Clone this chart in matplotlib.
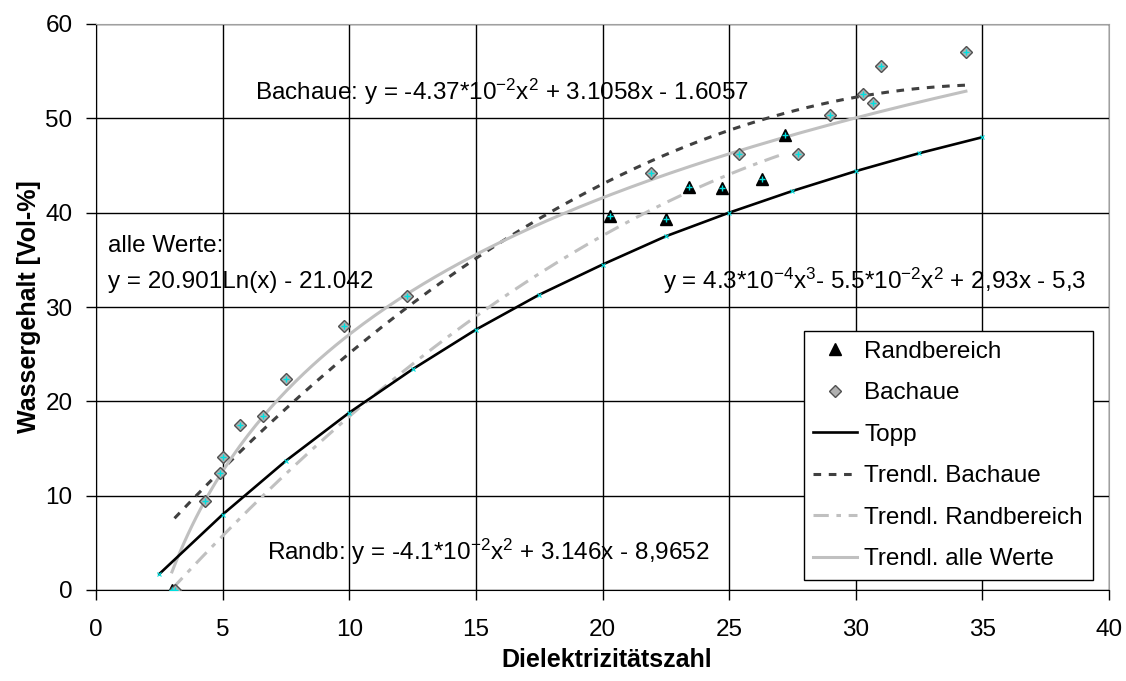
import numpy as np
import matplotlib
matplotlib.use("Agg")
import matplotlib.pyplot as plt

plt.rcParams["font.family"] = ["Liberation Sans", "DejaVu Sans"]
plt.rcParams["mathtext.fontset"] = "custom"
plt.rcParams["mathtext.rm"] = "Liberation Sans"
plt.rcParams["mathtext.it"] = "Liberation Sans"
plt.rcParams["mathtext.default"] = "regular"

# Messpunkte Randbereich
rand_x = [3.0, 20.3, 22.5, 23.4, 24.7, 26.3, 27.2]
rand_y = [0.0, 39.6, 39.3, 42.7, 42.6, 43.6, 48.2]

# Messpunkte Bachaue
bach_x = [3.1, 4.3, 4.9, 5.0, 5.7, 6.6, 7.5, 9.8, 12.3, 21.9, 25.4, 27.7,
          29.0, 30.3, 30.7, 31.0, 34.35]
bach_y = [0.0, 9.4, 12.4, 14.1, 17.5, 18.4, 22.4, 28.0, 31.2, 44.2, 46.2, 46.2,
          50.4, 52.6, 51.6, 55.5, 57.0]

# Topp-Kurve
topp_x = [2.5, 5, 7.5, 10, 12.5, 15, 17.5, 20, 22.5, 25, 27.5, 30, 32.5, 35]
topp_y = [1.7, 8.0, 13.7, 18.8, 23.4, 27.6, 31.3, 34.5, 37.5, 40.0, 42.3, 44.4, 46.3, 48.0]

# Trendlinien-Koeffizienten (aus den Gleichungen im Diagramm)
bach_coef = [-4.37e-2, 3.1058, -1.6057]
rand_coef = [-4.1e-2, 3.146, -8.9652]
alle_coef = [20.901, -21.042]   # a*ln(x) + b

fig = plt.figure(figsize=(11.26, 6.81), dpi=100)
ax = fig.add_axes([96 / 1126, 1 - 590 / 681, 1013 / 1126, 566 / 681])

cyan = "#00e0e0"

# Trendlinien
xb = np.linspace(min(bach_x), max(bach_x), 200)
xr = np.linspace(min(rand_x), max(rand_x), 200)
xa = np.linspace(min(rand_x + bach_x), max(rand_x + bach_x), 200)

ax.plot(topp_x, topp_y, color="black", lw=1.9, label="Topp", zorder=4)
ax.plot(topp_x, topp_y, ls="none", marker="x", ms=3, mew=0.8, color=cyan, zorder=5)
ax.plot(xb, np.polyval(bach_coef, xb), color="#404040", lw=2.2,
        dashes=(2.5, 2.5), label="Trendl. Bachaue", zorder=3)
ax.plot(xr, np.polyval(rand_coef, xr), color="#c0c0c0", lw=2.2,
        dashes=(5, 2.5, 1.5, 2.5), label="Trendl. Randbereich", zorder=3)
ax.plot(xa, alle_coef[0] * np.log(xa) + alle_coef[1], color="#c0c0c0", lw=2.2,
        label="Trendl. alle Werte", zorder=3)

# Punkte
ax.plot(rand_x, rand_y, ls="none", marker="^", ms=8, color="black",
        label="Randbereich", zorder=6)
ax.plot(bach_x, bach_y, ls="none", marker="D", ms=6.5, mfc="#b0b0b0",
        mec="#505050", mew=1.0, label="Bachaue", zorder=6)
ax.plot(rand_x + bach_x, rand_y + bach_y, ls="none", marker="+", ms=4,
        mew=1.0, color=cyan, zorder=7)

ax.set_xlim(0, 40)
ax.set_ylim(0, 60)
ax.set_xticks(range(0, 41, 5))
ax.set_yticks(range(0, 61, 10))
ax.grid(True, color="black", lw=1.0)
ax.set_axisbelow(True)
ax.tick_params(direction="out", length=7, width=1, labelsize=17.5)
ax.tick_params(axis="x", pad=14)
ax.tick_params(axis="y", pad=10)
for s in ("left", "bottom"):
    ax.spines[s].set_color("black")
for s in ("top", "right"):
    ax.spines[s].set_color("#a0a0a0")

ax.set_xlabel("Dielektrizitätszahl", fontsize=18, fontweight="bold")
ax.xaxis.set_label_coords(0.504, -0.103)
ax.set_ylabel("Wassergehalt [Vol-%]", fontsize=18, fontweight="bold")
ax.yaxis.set_label_coords(-0.054, 0.5)

# Gleichungen
fs = 17.5
ax.text(6.28, 52.8, r"Bachaue: y = -4.37*10$^{-2}$x$^{2}$ + 3.1058x - 1.6057",
        fontsize=fs, va="center", ha="left")
ax.text(0.47, 36.5, "alle Werte:", fontsize=fs, va="center", ha="left")
ax.text(0.47, 32.6, "y = 20.901Ln(x) - 21.042", fontsize=fs, va="center", ha="left")
ax.text(22.4, 32.8, r"y = 4.3*10$^{-4}$x$^{3}$- 5.5*10$^{-2}$x$^{2}$ + 2,93x - 5,3",
        fontsize=fs, va="center", ha="left")
ax.text(6.74, 4.0, r"Randb: y = -4.1*10$^{-2}$x$^{2}$ + 3.146x - 8,9652",
        fontsize=fs, va="center", ha="left")

handles, labels = ax.get_legend_handles_labels()
order = ["Randbereich", "Bachaue", "Topp", "Trendl. Bachaue",
         "Trendl. Randbereich", "Trendl. alle Werte"]
h = [handles[labels.index(o)] for o in order]
leg = ax.legend(h, order, loc="lower right", bbox_to_anchor=(0.984, 0.018),
                borderaxespad=0, fontsize=17.5, frameon=True, fancybox=False,
                framealpha=1, edgecolor="black", handlelength=1.8,
                labelspacing=0.8, borderpad=0.4, handletextpad=0.3)
leg.get_frame().set_linewidth(1.0)

plt.savefig("out.png", dpi=100, facecolor="white")
